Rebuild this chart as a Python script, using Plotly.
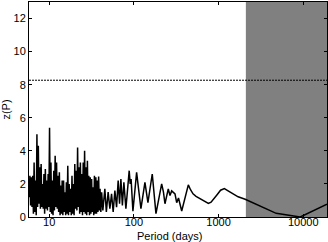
import plotly.graph_objects as go

# Periodogram: period (days) and z(P)
period = [
    5.798, 5.910, 6.024, 6.140, 6.258, 6.379, 6.502, 6.627, 6.755, 6.885,
    7.018, 7.153, 7.291, 7.431, 7.574, 7.720, 7.869, 8.021, 8.175, 8.333,
    8.493, 8.657, 8.824, 8.994, 9.167, 9.344, 9.524, 9.707, 9.894, 10.085,
    10.276, 10.474, 10.676, 10.882, 11.091, 11.305, 11.523, 11.745, 11.971, 12.202,
    12.437, 12.677, 12.921, 13.170, 13.424, 13.682, 13.946, 14.215, 14.489, 14.768,
    15.05, 15.34, 15.635, 15.936, 16.243, 16.556, 16.875, 17.200, 17.531, 17.869,
    18.213, 18.564, 18.922, 19.286, 19.657, 20.036, 20.422, 20.815, 21.216, 21.625,
    22.04, 22.46, 22.89, 23.33, 23.78, 24.24, 24.71, 25.19, 25.67, 26.16,
    26.67, 27.18, 27.70, 28.23, 28.77, 29.33, 29.89, 30.47, 31.06, 31.66,
    32.28, 32.90, 33.53, 34.18, 34.84, 35.51, 36.19, 36.89, 37.60, 38.32,
    39.06, 39.81,
    40.69, 41.59, 42.97, 45.38, 47.27, 49.64, 52.00, 54.46, 56.89, 59.58,
    62.40, 65.18, 67.72, 70.18, 73.10, 76.14, 80.41, 87.99, 90.41, 92.66,
    97.32, 107.63, 121.03, 134.96, 146.43, 164.66, 182.14, 212.75, 223.4, 232.7,
    254.6, 266.7, 279.3, 305.7, 320.2, 336.2, 366.9, 439.2, 466.3, 499.2,
    541.8, 604.0, 673.6, 757.5, 815.1, 884.8, 960.0, 1056, 1171, 1296,
    1497, 1702, 2059, 4792, 9215, 19080,
]
zp = [
    1.2, 2.5, 0.7, 2.4, 0.6, 2.5, 0.2, 3.3, 0.3, 2.2,
    0.1, 5.0, 0.6, 4.3, 0.8, 3.0, 0.5, 3.2, 0.6, 2.0,
    0.5, 2.6, 0.2, 2.9, 0.5, 2.2, 0.4, 2.6, 0.6, 5.4,
    0.3, 3.3, 0.2, 2.2, 0.1, 2.8, 0.4, 3.7, 0.6, 3.3,
    0.5, 2.5, 0.3, 2.7, 0.1, 1.9, 0.2, 2.2, 0.1, 2.2,
    0.3, 1.5, 0.1, 2.1, 0.2, 3.1, 0.1, 2.0, 0.3, 1.7,
    0.1, 2.5, 0.2, 2.0, 0.1, 3.2, 0.5, 2.8, 0.4, 4.2,
    0.6, 3.0, 0.2, 3.3, 0.3, 2.6, 0.1, 3.3, 0.3, 4.0,
    0.2, 3.0, 0.1, 3.4, 0.3, 2.5, 0.1, 2.4, 0.2, 2.3,
    0.3, 1.8, 0.1, 2.5, 0.2, 2.4, 0.2, 2.2, 0.3, 2.45,
    0.4, 1.7,
    0.3, 1.5, 0.4, 1.7, 0.3, 1.5, 0.5, 1.4, 0.3, 1.6,
    0.6, 2.2, 0.8, 2.3, 0.7, 2.1, 0.5, 2.8, 2.0, 2.3,
    0.35, 2.7, 0.5, 2.1, 0.87, 2.6, 0.2, 2.0, 1.5, 0.8,
    1.7, 1.3, 1.58, 1.4, 0.87, 1.15, 0.36, 1.94, 1.65, 1.4,
    1.25, 1.1, 0.95, 0.82, 0.9, 1.1, 1.35, 1.62, 1.72, 1.58,
    1.37, 1.22, 1.07, 0.22, 0.0, 0.77,
]

threshold = 8.27          # dotted significance level
shade_start = 2100        # periods longer than this are shaded
x_tick_vals = [10, 100, 1000, 10000]
x_tick_text = ["10", "100", "1000", "10000"]
y_tick_vals = [0, 2, 4, 6, 8, 10, 12]

fig = go.Figure()
fig.add_trace(go.Scatter(
    x=period, y=zp, mode="lines",
    line=dict(color="black", width=1.5),
    showlegend=False, hoverinfo="skip",
))

fig.add_shape(type="rect", xref="x", yref="y",
              x0=shade_start, x1=40000, y0=0, y1=13,
              fillcolor="#808080", line=dict(width=0), layer="below")
fig.add_shape(type="line", xref="paper", yref="y",
              x0=0, x1=1, y0=threshold, y1=threshold,
              line=dict(color="black", width=1, dash="2px,1px"))

tick_font = dict(family="Liberation Sans, Arial, sans-serif", size=11, color="black")
title_font = dict(family="Liberation Sans, Arial, sans-serif", size=11, color="black")

fig.add_annotation(text="Period (days)", xref="paper", yref="paper",
                   x=0.5, y=0, xanchor="center", yanchor="top",
                   xshift=-9, yshift=-12, borderpad=0, showarrow=False,
                   font=title_font)

fig.update_layout(
    width=328, height=242,
    margin=dict(l=29, r=1, t=2, b=25),
    paper_bgcolor="white", plot_bgcolor="white",
    font=tick_font,
    xaxis=dict(
        type="log", range=[0.761, 4.2805],
        tickvals=x_tick_vals, ticktext=x_tick_text,
        ticks="inside", ticklen=3, tickcolor="black",
        showline=True, linecolor="black", linewidth=1, mirror="ticks",
        showgrid=False, zeroline=False, automargin=False,
        tickfont=tick_font, ticklabelstandoff=-5,
    ),
    yaxis=dict(
        range=[0, 13], tickvals=y_tick_vals,
        ticks="inside", ticklen=3, tickcolor="black",
        showline=True, linecolor="black", linewidth=1, mirror="ticks",
        showgrid=False, zeroline=False, automargin=False,
        title=dict(text="z(P)", standoff=3, font=title_font),
        tickfont=tick_font,
    ),
)

fig.write_html("out.html", config={"displayModeBar": False},
               post_script="document.body.style.margin='0px';")
